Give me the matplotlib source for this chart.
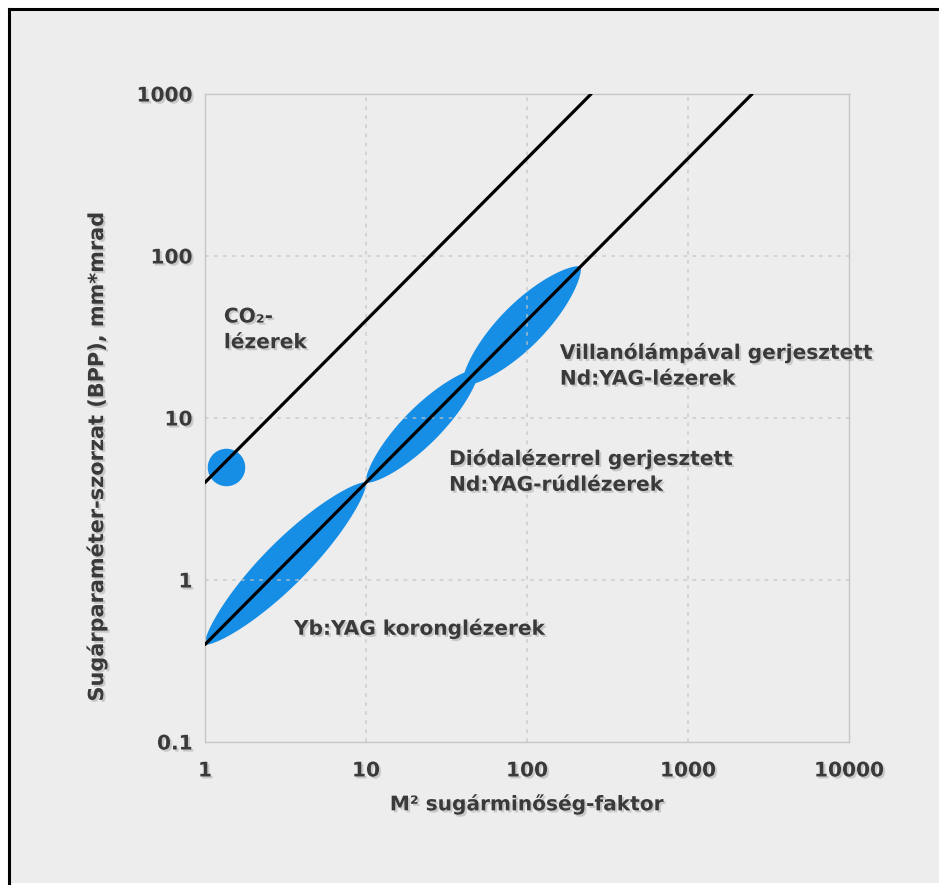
import matplotlib.pyplot as plt
import matplotlib.patheffects as pe
from matplotlib.patches import Rectangle
from matplotlib.ticker import NullLocator
import numpy as np

# data
xticks = [1, 10, 100, 1000, 10000]
xtick_labels = ["1", "10", "100", "1000", "10000"]
yticks = [0.1, 1, 10, 100, 1000]
ytick_labels = ["0.1", "1", "10", "100", "1000"]

co2_line_x = [1, 250]
co2_line_y = [4, 1000]
ndyag_line_x = [1, 2500]
ndyag_line_y = [0.4, 1000]

co2_point_x = [1.35]
co2_point_y = [4.95]

# M2 ranges of the lens shaped areas along the Nd:YAG line, half width in decades
area_names = ["Yb:YAG", "Dioda", "Villanolampa"]
area_m2_from = [1, 10, 40]
area_m2_to = [10, 50, 215]
area_halfwidth = [0.135, 0.115, 0.135]

blue = "#168ee6"
txt_color = "#3a3a3a"
bg = "#ededed"

plt.rcParams['font.family'] = ['DejaVu Sans']
plt.rcParams['font.weight'] = 'bold'

fig = plt.figure(figsize=(9.39, 8.88), dpi=100, facecolor="white")
W, H = 939, 888

# frame of the picture
fig.patches.append(Rectangle((10 / W, 5 / H), 929 / W, 873 / H, transform=fig.transFigure,
                             facecolor=bg, edgecolor="none", zorder=-1))
fig.add_artist(plt.Line2D([9 / W, 9 / W], [5 / H, 879 / H], transform=fig.transFigure,
                          color="black", lw=2.2))
fig.add_artist(plt.Line2D([9 / W, 1.0], [879 / H, 879 / H], transform=fig.transFigure,
                          color="black", lw=2.2))

ax = fig.add_axes([205 / W, (888 - 742) / H, 644 / W, 648 / H])
ax.set_facecolor(bg)
ax.set_xscale("log")
ax.set_yscale("log")
ax.set_xlim(1, 10000)
ax.set_ylim(0.1, 1000)

shadow = [pe.SimplePatchShadow(offset=(1.5, -1.5), shadow_rgbFace="#888888", alpha=0.35),
          pe.Normal()]


def line_logy(u):
    return np.interp(u, np.log10(ndyag_line_x), np.log10(ndyag_line_y))


# lens shaped areas, drawn in log space along the Nd:YAG line
s = np.linspace(-1, 1, 150)
for x0, x1, hw in zip(area_m2_from, area_m2_to, area_halfwidth):
    u0, u1 = np.log10(x0), np.log10(x1)
    v0, v1 = line_logy(u0), line_logy(u1)
    cu, cv = (u0 + u1) / 2, (v0 + v1) / 2
    length = np.hypot(u1 - u0, v1 - v0)
    du, dv = (u1 - u0) / length, (v1 - v0) / length
    a = length / 2
    w = hw * (1 - s ** 2) ** 0.7
    along = np.concatenate([s, s[::-1]]) * a
    across = np.concatenate([w, -w[::-1]])
    pu = cu + along * du - across * dv
    pv = cv + along * dv + across * du
    ax.fill(10 ** pu, 10 ** pv, color=blue, lw=0, zorder=2)

ax.plot(co2_point_x, co2_point_y, "o", color=blue, ms=27, mew=0, zorder=2)

ax.plot(co2_line_x, co2_line_y, color="black", lw=2.3, zorder=4, solid_capstyle="round")
ax.plot(ndyag_line_x, ndyag_line_y, color="black", lw=2.3, zorder=4, solid_capstyle="round")

# grid
for xv in xticks[1:-1]:
    ax.axvline(xv, color="#c4c4c4", lw=1.3, ls=(0, (2, 3)), alpha=0.7, zorder=3)
for yv in yticks[1:-1]:
    ax.axhline(yv, color="#c4c4c4", lw=1.3, ls=(0, (2, 3)), alpha=0.7, zorder=3)

for sp in ax.spines.values():
    sp.set_color("#c6c6c6")
    sp.set_linewidth(1.0)

ax.xaxis.set_minor_locator(NullLocator())
ax.yaxis.set_minor_locator(NullLocator())
ax.set_xticks(xticks)
ax.set_xticklabels(xtick_labels)
ax.set_yticks(yticks)
ax.set_yticklabels(ytick_labels)
ax.tick_params(length=0, labelsize=14.5, labelcolor=txt_color)
ax.tick_params(axis="x", pad=14)
ax.tick_params(axis="y", pad=9)
for lab in ax.get_xticklabels() + ax.get_yticklabels():
    lab.set_fontweight("bold")
    lab.set_path_effects(shadow)

ax.set_xlabel("M² sugárminőség-faktor", fontsize=14.5, fontweight="bold", color=txt_color,
              labelpad=10, path_effects=shadow)
ax.set_ylabel("Sugárparaméter-szorzat (BPP), mm*mrad", fontsize=15, fontweight="bold",
              color=txt_color, path_effects=shadow)
ax.yaxis.set_label_coords(-0.152, 0.441)

note_kw = dict(fontsize=14.5, color=txt_color, fontweight="bold", path_effects=shadow,
               linespacing=1.45, va="center", ha="left", zorder=5)
ax.text(1.31, 35, "CO₂-\nlézerek", **note_kw)
ax.text(160, 21, "Villanólámpával gerjesztett\nNd:YAG-lézerek", **note_kw)
ax.text(32.8, 4.65, "Diódalézerrel gerjesztett\nNd:YAG-rúdlézerek", **note_kw)
ax.text(3.57, 0.5, "Yb:YAG koronglézerek", **note_kw)

fig.savefig("out.png", dpi=100, facecolor=fig.get_facecolor())
